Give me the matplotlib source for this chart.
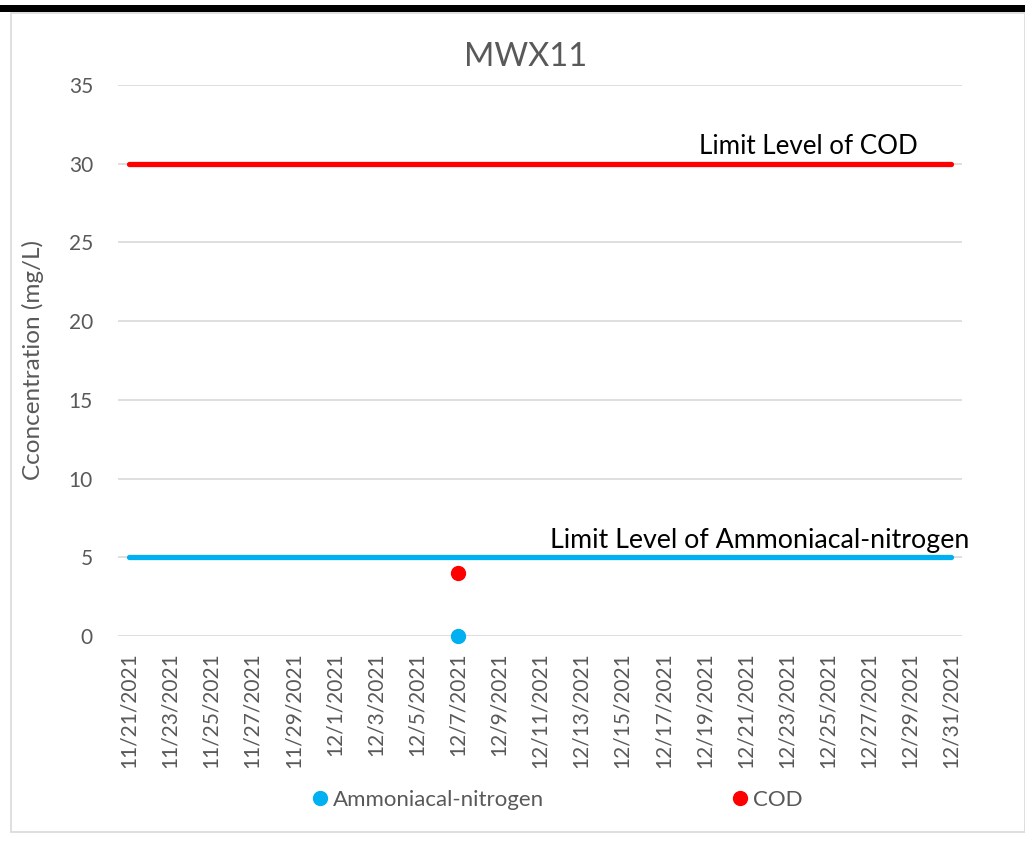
import numpy as np
import matplotlib.pyplot as plt
from matplotlib.patches import Rectangle
from datetime import datetime, timedelta

plt.rcParams['font.family'] = ['Lato', 'DejaVu Sans']

# datos
sample_dates = [datetime(2021, 12, 7)]
ammonia = [0]
cod = [4]

limit_dates = [datetime(2021, 11, 21), datetime(2021, 12, 31)]
limit_cod = [30, 30]
limit_ammonia = [5, 5]

tick_dates = [datetime(2021, 11, 21) + timedelta(days=2 * i) for i in range(21)]
tick_labels = [f"{d.month}/{d.day}/{d.year}" for d in tick_dates]

blue = '#00B0F0'
red = '#FF0000'
gray = '#595959'

fig = plt.figure(figsize=(10.25, 8.41), dpi=100)
ax = fig.add_axes([0.1151, 0.2438, 0.8234, 0.6551])

# marco del gráfico y barra negra superior
fig.patches.append(Rectangle((0.011, 0.011), 0.989, 0.973, transform=fig.transFigure,
                             fill=False, edgecolor='#D9D9D9', linewidth=1.2))
fig.patches.append(Rectangle((0, 0.986), 1, 0.008, transform=fig.transFigure,
                             facecolor='black', edgecolor='none'))

ax.plot(limit_dates, limit_cod, color=red, linewidth=3.8, solid_capstyle='round', zorder=3)
ax.plot(limit_dates, limit_ammonia, color=blue, linewidth=3.8, solid_capstyle='round', zorder=3)
ax.plot(sample_dates, ammonia, 'o', color=blue, markersize=10, label='Ammoniacal-nitrogen',
        zorder=4, clip_on=False)
ax.plot(sample_dates, cod, 'o', color=red, markersize=10, label='COD', zorder=4)

ax.text(limit_dates[1] - timedelta(days=1.6), limit_cod[1] + 0.3, 'Limit Level of COD',
        ha='right', va='bottom', fontsize=18.7, color='black')
ax.text(limit_dates[1] + timedelta(days=0.9), limit_ammonia[1] + 0.3,
        'Limit Level of Ammoniacal-nitrogen', ha='right', va='bottom', fontsize=19.3, color='black')

ax.set_xlim(limit_dates[0] - timedelta(days=0.53), limit_dates[1] + timedelta(days=0.53))
ax.set_ylim(0, 35)
ax.set_yticks(np.arange(0, 36, 5))
ax.set_xticks(tick_dates)
ax.set_xticklabels(tick_labels, rotation=90, fontsize=15, color=gray)
ax.tick_params(axis='y', labelsize=15, labelcolor=gray, length=0, pad=18)
ax.tick_params(axis='x', length=0, pad=12)
ax.grid(axis='y', color='#D9D9D9', linewidth=1.2)
ax.set_axisbelow(True)
for s in ax.spines.values():
    s.set_visible(False)

ax.set_ylabel('Cconcentration (mg/L)', fontsize=17.5, color=gray, labelpad=18)
fig.text(0.513, 0.932, 'MWX11', fontsize=23.5, color=gray, ha='center', va='center')

fig.legend(loc='center', bbox_to_anchor=(0.537, 0.049), ncol=2, frameon=False,
           fontsize=16, handletextpad=-0.4, columnspacing=7.8, markerscale=1.0,
           labelcolor=gray)

fig.savefig('out.png', dpi=100)
